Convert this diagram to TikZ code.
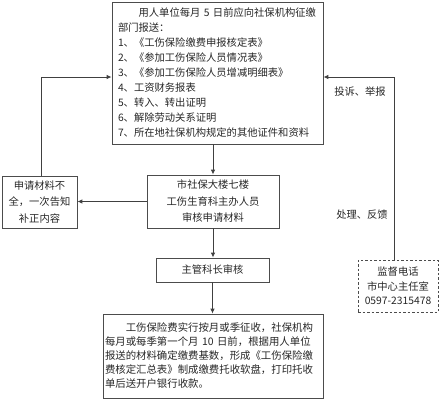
\documentclass[tikz,border=0pt]{standalone}
\usepackage{fontspec}
\setmainfont{Noto Sans CJK SC}
\usetikzlibrary{arrows.meta}
\begin{document}
\begin{tikzpicture}[x=1pt,y=-1pt,
  box/.style={draw=black!70, line width=0.8pt, inner sep=2pt, text=black!85},
  dbox/.style={box, dashed, dash pattern=on 2.5pt off 2pt},
  conn/.style={draw=black!75, line width=0.9pt, -{Latex[length=5pt,width=4.5pt]}},
  lbl/.style={text=black!85, inner sep=0pt, font=\fontsize{10.3}{12}\selectfont}]
\useasboundingbox (0,0) rectangle (440,400);

\node[box, minimum width=211pt, minimum height=142pt, text width=199pt, align=left,
      font=\fontsize{10.3}{15}\selectfont] (top) at (217.5,73)
  {　　用人单位每月 5 日前应向社保机构征缴\\
   部门报送：\\
   1、《工伤保险缴费申报核定表》\\
   2、《参加工伤保险人员情况表》\\
   3、《参加工伤保险人员增减明细表》\\
   4、工资财务报表\\
   5、转入、转出证明\\
   6、解除劳动关系证明\\
   7、所在地社保机构规定的其他证件和资料};

\node[box, minimum width=132pt, minimum height=53pt, align=center,
      font=\fontsize{10.3}{16.5}\selectfont] (mid) at (213,201.5)
  {市社保大楼七楼\\工伤生育科主办人员\\审核申请材料};

\node[box, minimum width=75pt, minimum height=52pt, align=center,
      font=\fontsize{10.3}{16.5}\selectfont] (left) at (39.5,202)
  {申请材料不\\全，一次告知\\补正内容};

\node[box, minimum width=113pt, minimum height=24pt, align=center,
      font=\fontsize{10.3}{12}\selectfont] (chief) at (212.5,270)
  {主管科长审核};

\node[box, minimum width=220pt, minimum height=84pt, text width=216pt, align=left,
      font=\fontsize{10.4}{14}\selectfont] (bot) at (213,356)
  {　　工伤保险费实行按月或季征收，社保机构\\
   每月或每季第一个月 10 日前，根据用人单位\\
   报送的材料确定缴费基数，形成《工伤保险缴\\
   费核定汇总表》制成缴费托收软盘，打印托收\\
   单后送开户银行收款。};

\node[dbox, minimum width=80pt, minimum height=52pt, align=center,
      font=\fontsize{10.3}{14.5}\selectfont] (dash) at (398,286)
  {监督电话\\市中心主任室\\0597-2315478};

\node[lbl] (l1) at (360,92) {投诉、举报};
\node[lbl] (l2) at (362,215) {处理、反馈};

\draw[conn] (mid.north |- top.south) -- (mid.north);
\draw[conn] (mid.south) -- (mid.south |- chief.north);
\draw[conn] (chief.south) -- (chief.south |- bot.north);
\draw[conn] (mid.west) -- (mid.west -| left.east);
\coordinate (lt) at ([xshift=1.5pt]left.north);
\draw[conn] (lt) |- ([yshift=-4pt]top.west);
\coordinate (dt) at ([xshift=-4pt]dash.north);
\draw[conn] (dt) |- ([yshift=-4pt]top.east);
\end{tikzpicture}
\end{document}
